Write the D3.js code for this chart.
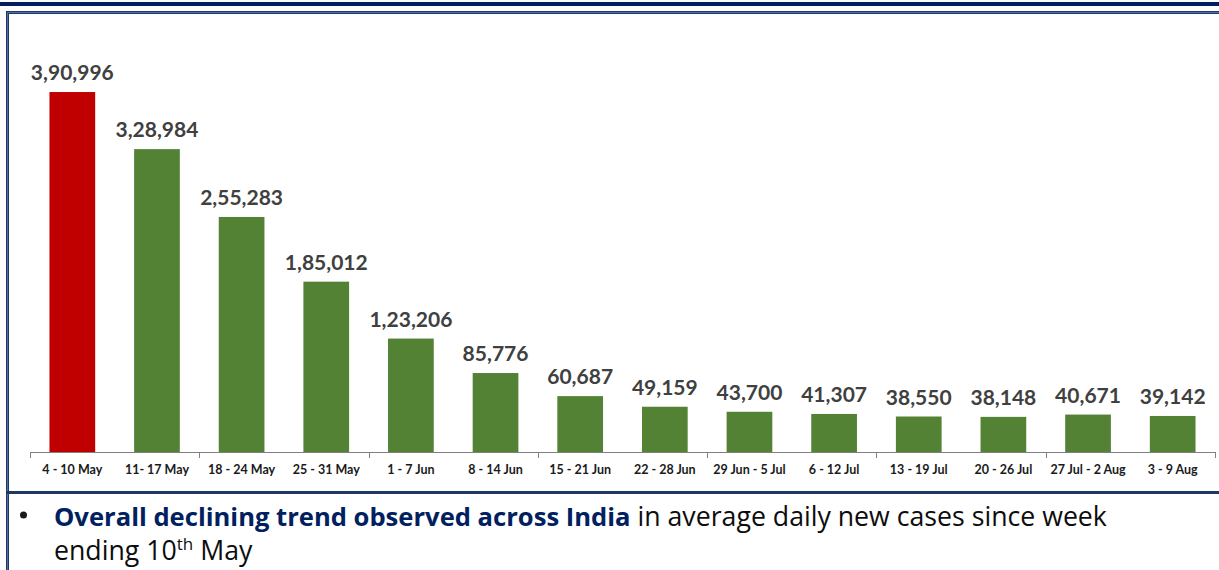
<!DOCTYPE html>
<html>
<head>
<meta charset="utf-8">
<script src="https://cdn.jsdelivr.net/npm/d3@7"></script>
<style>
  html, body { margin: 0; padding: 0; background: #ffffff; }
  svg { display: block; }
</style>
</head>
<body>
<svg id="chart" width="1219" height="570"></svg>
<script>
// Weekly average of daily new cases, India
const weeks = ["4 - 10 May", "11- 17 May", "18 - 24 May", "25 - 31 May", "1 - 7 Jun",
  "8 - 14 Jun", "15 - 21 Jun", "22 - 28 Jun", "29 Jun - 5 Jul", "6 - 12 Jul",
  "13 - 19 Jul", "20 - 26 Jul", "27 Jul - 2 Aug", "3 - 9 Aug"];
const avgDailyCases = [390996, 328984, 255283, 185012, 123206, 85776, 60687,
  49159, 43700, 41307, 38550, 38148, 40671, 39142];
const valueLabels = ["3,90,996", "3,28,984", "2,55,283", "1,85,012", "1,23,206",
  "85,776", "60,687", "49,159", "43,700", "41,307", "38,550", "38,148", "40,671", "39,142"];
const peakIndex = 0;
const summaryBold = "Overall declining trend observed across India";
const summaryRest = " in average daily new cases since week";
const summaryLine2 = ["ending 10", "th", " May"];

const svg = d3.select("#chart");
const navy = "#002060";
const font = "Lato, 'Open Sans', sans-serif";
const bodyFont = "'Open Sans', Lato, sans-serif";

// Page frame: top rule, boxed panel and divider
svg.append("rect").attr("x", 0).attr("y", 2).attr("width", 1219).attr("height", 4).attr("fill", navy);
svg.append("path")
  .attr("d", "M7.5,570 V12.5 H1219")
  .attr("fill", "none").attr("stroke", "#1f3864").attr("stroke-width", 3);
svg.append("path")
  .attr("d", "M7.5,570 V12.5 H1219")
  .attr("fill", "none").attr("stroke", "#4f6fa8").attr("stroke-width", 1);
svg.append("rect").attr("x", 7).attr("y", 491).attr("width", 1212).attr("height", 3).attr("fill", "#1f3864");

// Scales
const x = d3.scaleBand()
  .domain(weeks)
  .range([30, 1215])
  .paddingInner(0.46)
  .paddingOuter(0.23);

const y = d3.scaleLinear()
  .domain([0, 450000])
  .range([452, 37.7]);

// Bars
svg.append("g").selectAll("rect")
  .data(weeks)
  .join("rect")
  .attr("x", d => x(d))
  .attr("y", (d, i) => y(avgDailyCases[i]))
  .attr("width", x.bandwidth())
  .attr("height", (d, i) => y(0) - y(avgDailyCases[i]))
  .attr("fill", (d, i) => i === peakIndex ? "#c00000" : "#548235");

// Value labels
svg.append("g").selectAll("text")
  .data(weeks)
  .join("text")
  .attr("x", d => x(d) + x.bandwidth() / 2)
  .attr("y", (d, i) => y(avgDailyCases[i]) - 12)
  .attr("text-anchor", "middle")
  .attr("font-family", font)
  .attr("font-weight", 700)
  .attr("font-size", 21)
  .attr("fill", "#404040")
  .text((d, i) => valueLabels[i]);

// Category axis: baseline, tick marks every second week, labels
const step = x.step();
const axisY = y(0);
svg.append("line")
  .attr("x1", x.range()[0]).attr("x2", x.range()[1])
  .attr("y1", axisY + 0.5).attr("y2", axisY + 0.5)
  .attr("stroke", "#808080").attr("stroke-width", 1);

const tickIdx = d3.range(0, weeks.length + 1, 2);
svg.append("g").selectAll("line")
  .data(tickIdx)
  .join("line")
  .attr("x1", i => Math.round(x.range()[0] + i * step) + 0.5)
  .attr("x2", i => Math.round(x.range()[0] + i * step) + 0.5)
  .attr("y1", axisY)
  .attr("y2", axisY + 6)
  .attr("stroke", "#808080").attr("stroke-width", 1);

const axis = d3.axisBottom(x).tickSize(0).tickPadding(0);
const gAxis = svg.append("g")
  .attr("transform", `translate(0,${axisY})`)
  .call(axis);
gAxis.select(".domain").remove();
gAxis.selectAll("text")
  .attr("dy", null)
  .attr("y", 22)
  .attr("font-family", font)
  .attr("font-weight", 700)
  .attr("font-size", 12.5)
  .attr("fill", "#1a1a1a");

// Summary bullet
svg.append("circle").attr("cx", 23.5).attr("cy", 515).attr("r", 3.5).attr("fill", "#1a1a1a");

const line1 = svg.append("text")
  .attr("x", 54).attr("y", 526)
  .attr("font-family", bodyFont)
  .attr("font-size", 26.7);
line1.append("tspan").attr("font-weight", 700).attr("font-size", 25.6).attr("fill", navy).text(summaryBold);
line1.append("tspan").attr("fill", "#0d0d0d").text(summaryRest);

const line2 = svg.append("text")
  .attr("x", 54).attr("y", 560)
  .attr("font-family", bodyFont)
  .attr("font-size", 26.7)
  .attr("fill", "#0d0d0d");
line2.append("tspan").text(summaryLine2[0]);
line2.append("tspan").attr("font-size", 17).attr("dy", -10).text(summaryLine2[1]);
line2.append("tspan").attr("dy", 10).text(summaryLine2[2]);
</script>
</body>
</html>
